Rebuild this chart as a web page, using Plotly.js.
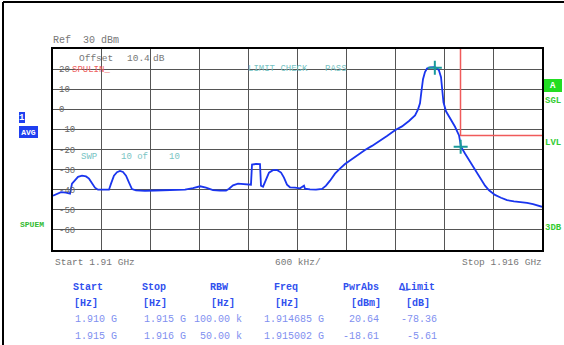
<!DOCTYPE html>
<html><head><meta charset="utf-8">
<script src="https://cdn.plot.ly/plotly-3.0.1.min.js"></script>
<style>html,body{margin:0;padding:0;background:#fff}#chart{width:564px;height:345px}</style>
</head><body><div id="chart"></div>
<script>
// Trace 1 (AVG), frequency in MHz, level in dBm
const traceFreq = [1910.000,1910.049,1910.098,1910.160,1910.209,1910.233,1910.270,1910.307,1910.356,1910.405,1910.442,1910.479,1910.515,1910.552,1910.626,1910.687,1910.712,1910.748,1910.785,1910.822,1910.859,1910.896,1910.933,1910.969,1911.018,1911.129,1911.252,1911.374,1911.497,1911.620,1911.718,1911.804,1911.877,1911.963,1912.049,1912.123,1912.160,1912.209,1912.270,1912.356,1912.429,1912.442,1912.491,1912.540,1912.552,1912.577,1912.613,1912.650,1912.699,1912.748,1912.798,1912.834,1912.871,1912.908,1912.969,1913.031,1913.080,1913.092,1913.153,1913.227,1913.301,1913.350,1913.399,1913.460,1913.521,1913.583,1913.644,1913.730,1913.828,1913.914,1914.000,1914.098,1914.196,1914.282,1914.368,1914.442,1914.479,1914.503,1914.521,1914.540,1914.564,1914.589,1914.626,1914.675,1914.712,1914.736,1914.761,1914.779,1914.791,1914.822,1914.871,1914.933,1914.982,1915.006,1915.055,1915.117,1915.178,1915.239,1915.301,1915.350,1915.423,1915.497,1915.571,1915.656,1915.730,1915.816,1915.890,1915.951,1916.000];
const traceLevel = [-43.0,-42.0,-41.2,-41.5,-42.0,-37.0,-35.0,-33.6,-33.0,-33.4,-34.5,-36.5,-39.0,-40.0,-40.2,-40.0,-37.0,-33.0,-31.3,-30.7,-31.2,-33.0,-36.5,-39.7,-40.3,-40.6,-40.4,-40.3,-40.2,-40.0,-39.2,-38.3,-39.0,-40.2,-40.5,-40.5,-39.5,-37.8,-37.0,-37.2,-37.5,-27.5,-27.2,-27.3,-38.0,-38.5,-35.0,-31.5,-30.3,-30.2,-31.5,-34.0,-37.5,-38.8,-39.0,-39.3,-38.0,-39.5,-39.8,-40.0,-39.6,-38.0,-35.5,-32.0,-29.5,-27.2,-25.5,-23.0,-20.3,-18.2,-16.0,-13.3,-10.4,-8.5,-5.8,-3.0,0.0,3.0,9.0,15.0,18.5,20.3,20.9,21.0,20.5,19.3,16.0,9.0,3.5,-1.0,-4.5,-8.7,-13.0,-18.6,-22.0,-26.1,-30.2,-34.3,-38.0,-40.3,-42.6,-44.0,-45.2,-45.8,-46.1,-46.6,-47.2,-47.8,-48.5];
// Limit line SPULIN
const limitFreq = [1910.0, 1915.0, 1915.0, 1916.0];
const limitLevel = [99.0, 99.0, -13.0, -13.0];
// Markers
const markerFreq = [1914.685, 1915.002];
const markerLevel = [20.64, -18.61];
// Y tick labels
const yTickVals = [20, 10, 0, -10, -20, -30, -40, -50, -60];
// Table
const tblHeaders = ["Start", "Stop", "RBW", "Freq", "PwrAbs", "\u0394\u0332Limit"];
const tblUnits = ["[Hz]", "[Hz]", "[Hz]", "[Hz]", "[dBm]", "[dB]"];
const tblRow1 = ["1.910 G", "1.915 G", "100.00 k", "1.914685 G", "20.64", "-78.36"];
const tblRow2 = ["1.915 G", "1.916 G", "50.00 k", "1.915002 G", "-18.61", "-5.61"];

const MONO = "Liberation Mono, DejaVu Sans Mono, monospace";
const L = 53, R = 542, T = 49, B = 250;
const px = x => (x - L) / (R - L);
const py = y => (B - y) / (B - T);

const ann = [];
function A(text, x, y, o) {
  o = o || {};
  ann.push(Object.assign({
    text: text, xref: 'paper', yref: 'paper', x: px(x), y: py(y),
    xanchor: 'left', yanchor: 'middle', showarrow: false,
    borderpad: 0, borderwidth: 0,
    font: {family: MONO, size: 9, color: '#777'}
  }, o));
}
const grey = {family: MONO, size: 9.5, color: '#777'};
const teal = {family: MONO, size: 9, color: '#78c4c4'};
const green = {family: MONO, size: 9, color: '#33cc33'};

A('Ref  30 dBm', 53, 40, {font: {family: MONO, size: 10, color: '#777'}});
A('Offset', 79, 58, {font: grey});
A('10.4', 127, 58, {font: grey});
A('dB', 153, 58, {font: grey});
A('LIMIT CHECK', 248, 69, {font: teal});
A('PASS', 325, 69, {font: teal});
A('SWP', 81, 157, {font: teal});
A('10 of', 121, 157, {font: teal});
A('10', 169, 157, {font: teal});

const shapes = [];
yTickVals.forEach(v => {
  const t = String(v);
  const w = t.length * 5.4 + 1;
  const yy = B - (v + 70) * (B - T) / 100;
  shapes.push({type: 'rect', layer: 'between', xref: 'paper', yref: 'paper',
    x0: px(58.5), x1: px(59 + w), y0: py(yy + 4), y1: py(yy - 4),
    fillcolor: '#fff', line: {width: 0}});
  A(t, 59, yy + 1, {font: {family: MONO, size: 9, color: '#666'}});
});
A('SPULIN_', 72, 70, {font: {family: MONO, size: 9, color: '#ee6060'}});

// left side labels
A('<b>1</b>', 19, 117, {font: {family: MONO, size: 9, color: '#fff'}, bgcolor: '#1f3ff0', width: 6, height: 11, align: 'center'});
A('<b>AVG</b>', 19, 132, {font: {family: MONO, size: 8, color: '#fff'}, bgcolor: '#1f3ff0', width: 19, height: 12, align: 'center'});
A('<b>SPUEM</b>', 20, 224, {font: {family: MONO, size: 8, color: '#33bb33'}});
// right side labels
A('<b>A</b>', 544, 85.5, {font: {family: MONO, size: 9, color: '#fff'}, bgcolor: '#22dd22', width: 18, height: 13, align: 'center'});
A('<b>SGL</b>', 545, 101, {font: green});
A('<b>LVL</b>', 545, 143, {font: green});
A('<b>3DB</b>', 545, 228, {font: green});

// bottom axis texts
A('Start 1.91 GHz', 55, 262, {font: grey});
A('600 kHz/', 298, 262, {font: grey, xanchor: 'center'});
A('Stop 1.916 GHz', 542, 262, {font: grey, xanchor: 'right'});

// table
const colX = [73, 142, 210, 274, 343, 399];
const hdr = {family: MONO, size: 10, color: '#3050ee'};
const val = {family: MONO, size: 10, color: '#7f90f0'};
tblHeaders.forEach((t, i) => A('<b>' + t + '</b>', colX[i], 287, {font: hdr}));
const unitX = [74, 143, 211, 275, 351, 406];
tblUnits.forEach((t, i) => A('<b>' + t + '</b>', unitX[i], 303.5, {font: hdr}));
const valRight = [117, 186, 242, 324, 379, 437];
tblRow1.forEach((t, i) => A(t, valRight[i], 319, {font: val, xanchor: 'right'}));
tblRow2.forEach((t, i) => A(t, valRight[i], 336, {font: val, xanchor: 'right'}));

// outer frame lines
shapes.push({type: 'line', xref: 'paper', yref: 'paper', x0: px(3), x1: px(3), y0: py(2), y1: py(345), line: {color: '#000', width: 2}});
shapes.push({type: 'line', xref: 'paper', yref: 'paper', x0: px(3), x1: px(564), y0: py(2), y1: py(2), line: {color: '#000', width: 2}});

const data = [
  {x: limitFreq, y: limitLevel, mode: 'lines', line: {color: '#f05a5a', width: 1.5}, hoverinfo: 'skip'},
  {x: traceFreq, y: traceLevel, mode: 'lines', line: {color: '#1a35ee', width: 1.8}},
  {x: markerFreq, y: markerLevel, mode: 'markers', marker: {symbol: 'cross-thin', size: 10, line: {color: '#1a9a9a', width: 2}}}
];

const layout = {
  width: 564, height: 345,
  margin: {l: L, r: 564 - R, t: T, b: 345 - B, pad: 0},
  paper_bgcolor: '#fff', plot_bgcolor: '#fff',
  showlegend: false,
  xaxis: {range: [1910, 1916], tick0: 1910, dtick: 0.6, showticklabels: false, ticks: '',
    showgrid: true, gridcolor: '#555', gridwidth: 1, zeroline: false,
    showline: true, mirror: true, linecolor: '#000', linewidth: 2},
  yaxis: {range: [-70, 30], tick0: 0, dtick: 10, showticklabels: false, ticks: '',
    showgrid: true, gridcolor: '#555', gridwidth: 1, zeroline: false,
    showline: true, mirror: true, linecolor: '#000', linewidth: 2},
  annotations: ann,
  shapes: shapes
};
Plotly.newPlot('chart', data, layout, {displayModeBar: false, staticPlot: true});
</script></body></html>
